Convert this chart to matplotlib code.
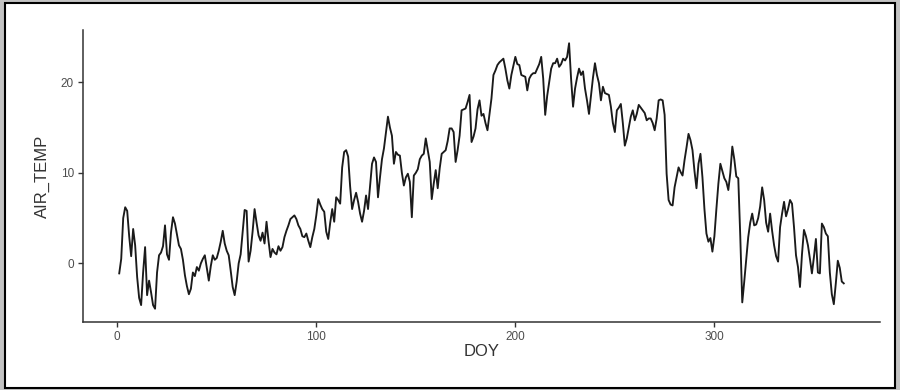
import matplotlib
matplotlib.use("Agg")
import matplotlib.pyplot as plt
from matplotlib.patches import Rectangle
import numpy as np

plt.rcParams['font.family'] = ['Liberation Sans', 'DejaVu Sans']

air_temp = [
    -1.1, 0.5, 5.0, 6.2, 5.8, 3.0, 0.8, 3.8, 2.0, -1.5,
    -3.8, -4.6, -1.0, 1.8, -3.5, -1.9, -3.2, -4.6, -5.0, -1.0,
    0.9, 1.2, 1.9, 4.2, 1.0, 0.4, 3.4, 5.1, 4.4, 3.2,
    2.0, 1.6, 0.4, -1.3, -2.5, -3.4, -2.8, -1.0, -1.4, -0.4,
    -0.8, 0.0, 0.5, 0.9, -0.5, -1.9, -0.3, 0.9, 0.4, 0.6,
    1.4, 2.4, 3.6, 2.2, 1.4, 0.9, -0.8, -2.6, -3.5, -2.0,
    0.0, 1.0, 3.5, 5.9, 5.8, 0.2, 1.4, 3.5, 6.0, 4.5,
    3.1, 2.5, 3.4, 2.2, 4.6, 2.5, 0.7, 1.6, 1.2, 1.0,
    1.9, 1.4, 1.8, 2.9, 3.6, 4.2, 4.9, 5.1, 5.3, 4.9,
    4.2, 3.8, 3.0, 2.9, 3.3, 2.5, 1.8, 2.9, 3.8, 5.3,
    7.1, 6.5, 6.0, 5.7, 3.5, 2.7, 4.5, 6.0, 4.6, 7.3,
    7.0, 6.6, 10.6, 12.3, 12.5, 11.8, 8.5, 6.0, 7.0, 7.8,
    6.8, 5.5, 4.6, 5.8, 7.5, 6.0, 8.5, 11.0, 11.7, 11.2,
    7.3, 9.5, 11.5, 12.7, 14.5, 16.2, 15.0, 14.1, 11.0, 12.3,
    12.0, 11.9, 10.0, 8.6, 9.5, 9.9, 9.0, 5.1, 9.7, 10.0,
    10.4, 11.5, 11.9, 12.1, 13.8, 12.5, 11.2, 7.1, 8.8, 10.3,
    8.3, 10.5, 12.1, 12.3, 12.5, 13.5, 14.9, 14.9, 14.5, 11.2,
    12.5, 14.1, 16.9, 17.0, 17.1, 17.8, 18.6, 13.4, 14.0, 14.9,
    17.0, 18.0, 16.3, 16.5, 15.5, 14.7, 16.5, 18.2, 20.8, 21.3,
    21.9, 22.2, 22.4, 22.6, 21.5, 20.2, 19.3, 20.8, 21.8, 22.8,
    22.0, 21.9, 20.8, 20.7, 20.6, 19.1, 20.4, 20.8, 21.0, 21.0,
    21.5, 22.0, 22.8, 20.4, 16.4, 18.5, 20.0, 21.5, 22.1, 22.1,
    22.6, 21.7, 22.0, 22.6, 22.4, 22.8, 24.3, 20.4, 17.3, 19.3,
    20.5, 21.5, 20.8, 21.2, 19.3, 18.0, 16.5, 18.5, 20.5, 22.1,
    20.8, 19.9, 18.0, 19.5, 18.8, 18.7, 18.6, 17.3, 15.5, 14.5,
    16.9, 17.2, 17.6, 15.5, 13.0, 13.8, 15.0, 16.2, 16.9, 15.8,
    16.5, 17.5, 17.2, 16.9, 16.6, 15.8, 16.0, 16.0, 15.5, 14.7,
    16.0, 18.0, 18.1, 18.0, 16.4, 9.9, 7.0, 6.5, 6.4, 8.4,
    9.5, 10.6, 10.1, 9.7, 11.4, 12.8, 14.3, 13.6, 12.5, 10.2,
    8.3, 11.0, 12.1, 9.5, 6.0, 3.3, 2.4, 2.8, 1.3, 3.0,
    6.0, 8.8, 11.0, 10.2, 9.4, 9.0, 8.1, 10.0, 12.9, 11.5,
    9.6, 9.4, 3.0, -4.3, -2.0, 0.5, 2.9, 4.5, 5.5, 4.2,
    4.3, 5.0, 6.3, 8.4, 7.0, 4.5, 3.5, 5.5, 3.6, 2.0,
    0.8, 0.2, 4.0, 5.5, 6.8, 5.2, 6.0, 7.0, 6.6, 4.0,
    0.9, -0.4, -2.6, 1.0, 3.7, 3.0, 2.0, 0.5, -1.1, 0.7,
    2.7, -1.0, -1.1, 4.4, 4.0, 3.3, 3.0, -1.0, -3.4, -4.5,
    -2.2, 0.3, -0.5, -2.0, -2.2,
]
doy = list(range(1, len(air_temp) + 1))
x_ticks = [0, 100, 200, 300]
y_ticks = [0, 10, 20]

fig = plt.figure(figsize=(9, 3.9), dpi=100, facecolor='#c3c3c3')
frame = Rectangle((5/900, 2/390), 890/900, 385/390, transform=fig.transFigure,
                  facecolor='white', edgecolor='black', linewidth=1.5, zorder=-10)
fig.add_artist(frame)

ax = fig.add_axes([83/900, (390-322)/390, (880-83)/900, (322-30)/390])
ax.set_zorder(5)
ax.set_facecolor('none')
ax.plot(doy, air_temp, color='#1a1a1a', linewidth=1.35, solid_joinstyle='round')

xmin, xmax = min(doy), max(doy)
ymin, ymax = min(air_temp), max(air_temp)
xr, yr = xmax - xmin, ymax - ymin
ax.set_xlim(xmin - 0.05 * xr, xmax + 0.05 * xr)
ax.set_ylim(ymin - 0.05 * yr, ymax + 0.05 * yr)

ax.set_xticks(x_ticks)
ax.set_yticks(y_ticks)
for s in ['top', 'right']:
    ax.spines[s].set_visible(False)
for s in ['left', 'bottom']:
    ax.spines[s].set_color('#333333')
    ax.spines[s].set_linewidth(1.1)
ax.tick_params(axis='both', colors='#333333', labelcolor='#4d4d4d', labelsize=8.5,
               length=3.5, width=1.0, pad=3)
ax.set_xlabel('DOY', fontsize=12, color='#333333', labelpad=1)
ax.set_ylabel('AIR_TEMP', fontsize=12, color='#333333', labelpad=8)

fig.savefig('out.png', dpi=100, facecolor=fig.get_facecolor())
